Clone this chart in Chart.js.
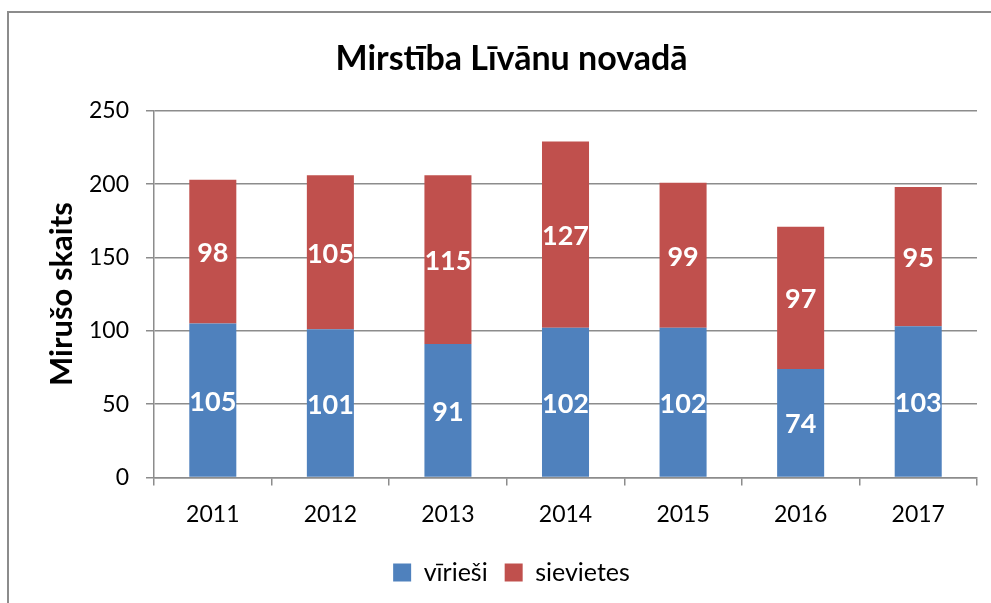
<!DOCTYPE html>
<html>
<head>
<meta charset="utf-8">
<script src="https://cdn.jsdelivr.net/npm/chart.js@4"></script>
<style>
  html, body { margin: 0; padding: 0; background: #fff; }
  #wrap { position: relative; width: 991px; height: 603px; overflow: hidden; }
  #frame { position: absolute; left: 7px; top: 11px; width: 1100px; height: 700px;
           border-left: 2px solid #8c8c8c; border-top: 2px solid #8c8c8c; }
  canvas { position: absolute; left: 0; top: 0; }
</style>
</head>
<body>
<div id="wrap">
  <div id="frame"></div>
  <canvas id="c" width="991" height="603"></canvas>
</div>
<script>
// Mirstība Līvānu novadā — stacked bars
const years    = ['2011', '2012', '2013', '2014', '2015', '2016', '2017'];
const virieshi = [105, 101, 91, 102, 102, 74, 103];
const sievietes = [98, 105, 115, 127, 99, 97, 95];
const yTicks   = [0, 50, 100, 150, 200, 250];

const FONT = 'Lato, "Open Sans", sans-serif';
const GRID = '#8c8c8c';

// white bold values in the middle of each segment
const barLabels = {
  id: 'barLabels',
  afterDatasetsDraw(chart) {
    const ctx = chart.ctx;
    ctx.save();
    ctx.fillStyle = '#fff';
    ctx.font = 'bold 27px ' + FONT;
    ctx.textAlign = 'center';
    ctx.textBaseline = 'middle';
    chart.data.datasets.forEach((ds, di) => {
      chart.getDatasetMeta(di).data.forEach((bar, i) => {
        const mid = (bar.y + bar.base) / 2;
        ctx.fillText(String(ds.data[i]), bar.x, mid + 2);
      });
    });
    ctx.restore();
  }
};

new Chart(document.getElementById('c'), {
  type: 'bar',
  data: {
    labels: years,
    datasets: [
      { label: 'vīrieši', data: virieshi, backgroundColor: '#4f81bd', barPercentage: 0.4, categoryPercentage: 1 },
      { label: 'sievietes', data: sievietes, backgroundColor: '#c0504d', barPercentage: 0.4, categoryPercentage: 1 }
    ]
  },
  options: {
    responsive: false,
    animation: false,
    layout: { padding: { left: 46, right: 14, top: 22, bottom: 8 } },
    plugins: {
      title: {
        display: true,
        text: 'Mirstība Līvānu novadā',
        color: '#000',
        font: { family: FONT, size: 34, weight: 'bold' },
        padding: { top: 17, bottom: 31 }
      },
      legend: {
        position: 'bottom',
        labels: {
          color: '#000',
          font: { family: FONT, size: 25 },
          boxWidth: 18, boxHeight: 18, padding: 17
        }
      },
      tooltip: { enabled: false }
    },
    scales: {
      x: {
        stacked: true,
        grid: { display: true, drawOnChartArea: false, color: GRID, lineWidth: 1.5, tickLength: 8 },
        border: { color: GRID, width: 1.5 },
        ticks: { color: '#000', font: { family: FONT, size: 23 }, padding: 15 }
      },
      y: {
        stacked: true,
        min: 0, max: 250,
        afterBuildTicks: axis => { axis.ticks = yTicks.map(v => ({ value: v })); },
        grid: { color: GRID, lineWidth: 1.5, tickLength: 8 },
        border: { color: GRID, width: 1.5 },
        ticks: { color: '#000', font: { family: FONT, size: 23 }, padding: 17 },
        title: {
          display: true,
          text: 'Mirušo skaits',
          color: '#000',
          font: { family: FONT, size: 31, weight: 'bold', lineHeight: 1 },
          padding: { top: 0, bottom: -5 }
        }
      }
    }
  },
  plugins: [barLabels]
});
</script>
</body>
</html>
